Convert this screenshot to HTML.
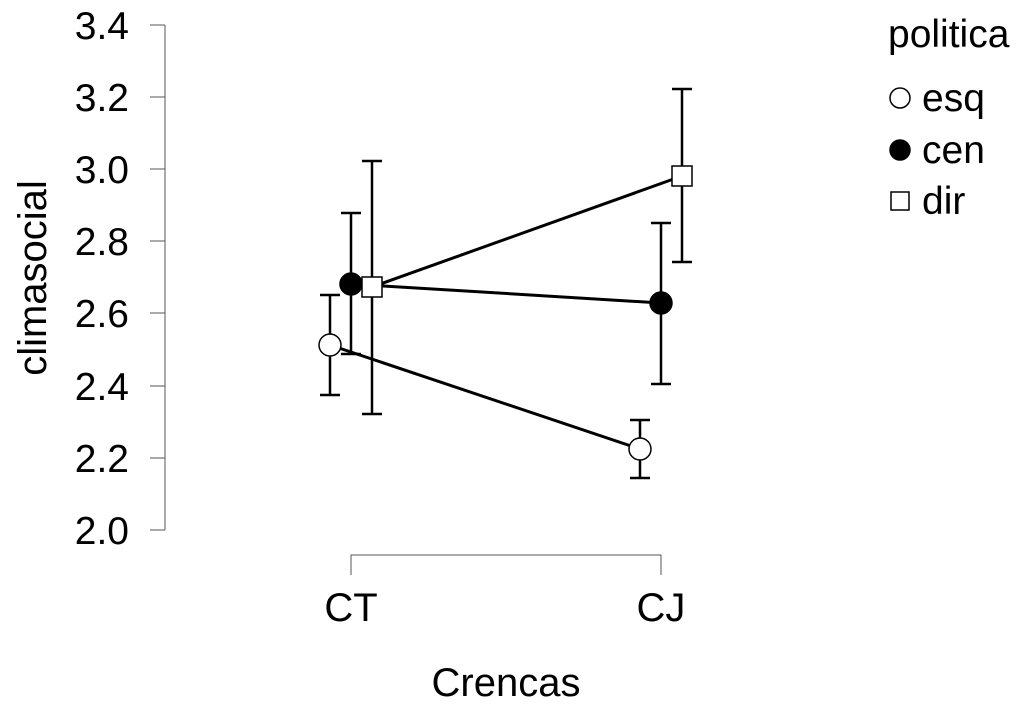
<!DOCTYPE html>
<html><head><style>body{margin:0;background:#fff}</style></head><body>
<svg width="1024" height="714" xmlns="http://www.w3.org/2000/svg" font-family="Liberation Sans, sans-serif">
<rect width="1024" height="714" fill="#fff"/>
<g stroke="#000" stroke-width="1" fill="none">
<line x1="165" y1="25" x2="165" y2="530" stroke="#555"/>
<g stroke="#555">
<line x1="150" y1="25" x2="165" y2="25"/><line x1="150" y1="97" x2="165" y2="97"/>
<line x1="150" y1="169" x2="165" y2="169"/><line x1="150" y1="241" x2="165" y2="241"/>
<line x1="150" y1="313" x2="165" y2="313"/><line x1="150" y1="386" x2="165" y2="386"/>
<line x1="150" y1="458" x2="165" y2="458"/><line x1="150" y1="530" x2="165" y2="530"/>
<polyline points="351,575 351,555 661,555 661,575"/>
</g>
</g>
<g font-size="39" text-anchor="end" fill="#000">
<text x="129" y="39">3.4</text><text x="129" y="111">3.2</text><text x="129" y="183">3.0</text>
<text x="129" y="255">2.8</text><text x="129" y="327">2.6</text><text x="129" y="400">2.4</text>
<text x="129" y="472">2.2</text><text x="129" y="544">2.0</text>
</g>
<g font-size="40" text-anchor="middle">
<text x="351" y="621">CT</text><text x="661" y="621">CJ</text>
<text x="506" y="696">Crencas</text>
<text transform="translate(46,278) rotate(-90)">climasocial</text>
</g>
<g stroke="#000" stroke-width="2.5" fill="none">
<path d="M330 295V395M320 295H340M320 395H340"/>
<path d="M640 420V478M630 420H650M630 478H650"/>
<path d="M351 213V354M341 213H361M341 354H361"/>
<path d="M661 223V384M651 223H671M651 384H671"/>
<path d="M372 161V414M362 161H382M362 414H382"/>
<path d="M682 89V262M672 89H692M672 262H692"/>
<line x1="330" y1="345" x2="640" y2="449" stroke-width="3"/>
<line x1="351" y1="284" x2="661" y2="303" stroke-width="3"/>
<line x1="372" y1="287" x2="682" y2="176" stroke-width="3"/>
</g>
<g stroke="#000" stroke-width="1.5">
<circle cx="330" cy="345" r="11" fill="#fff"/>
<circle cx="640" cy="449" r="11" fill="#fff"/>
<circle cx="351" cy="284" r="11" fill="#000"/>
<circle cx="661" cy="303" r="11" fill="#000"/>
<rect x="362" y="277" width="20" height="20" fill="#fff"/>
<rect x="672" y="166" width="20" height="20" fill="#fff"/>
</g>
<g font-size="39">
<text x="888" y="47">politica</text>
<text x="922" y="111">esq</text><text x="922" y="163">cen</text><text x="922" y="214">dir</text>
</g>
<g stroke="#000" stroke-width="1.5">
<circle cx="900" cy="98" r="10" fill="#fff"/>
<circle cx="900" cy="150" r="10" fill="#000"/>
<rect x="891" y="192" width="18" height="18" fill="#fff"/>
</g>
</svg>
</body></html>
